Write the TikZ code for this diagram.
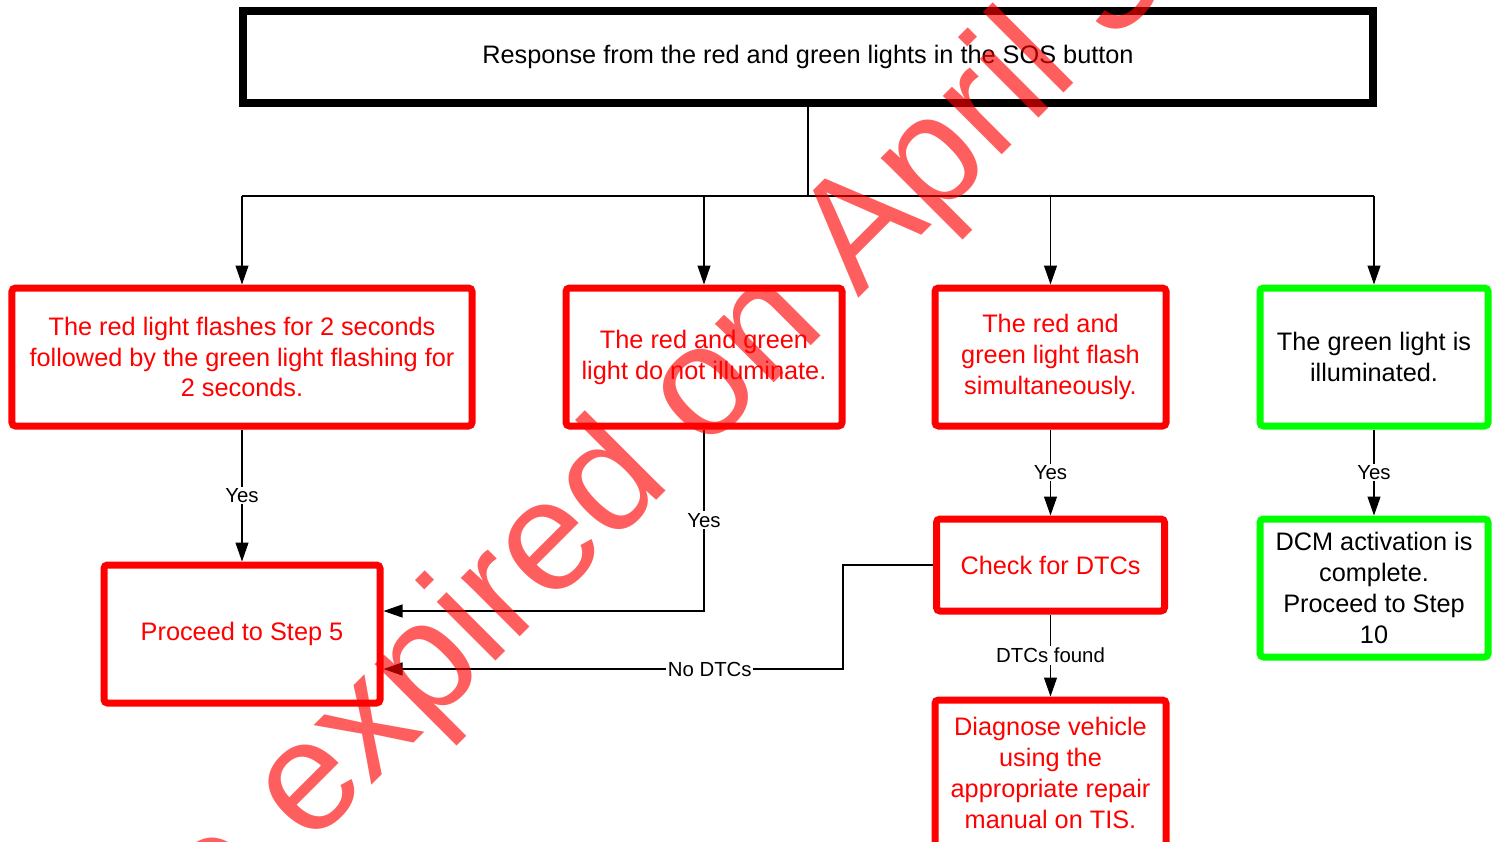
\documentclass[tikz,border=0pt]{standalone}
\usepackage{fontspec}
\setmainfont{Liberation Sans}
\usetikzlibrary{arrows.meta}
\newcommand{\boxfont}{\fontsize{14.4pt}{17.6pt}\selectfont}
\newcommand{\lblfont}{\fontsize{11.6pt}{13pt}\selectfont}
\tikzstyle{head} = [rectangle, draw=black, line width=0.16cm,
minimum width=22.6cm, minimum height=1.84cm, font=\boxfont]
\tikzstyle{redbox} = [rectangle, draw=red, text=red, line width=0.14cm,
align=center, rounded corners=2pt, minimum height=2.76cm, font=\boxfont]
\tikzstyle{greenbox} = [rectangle, draw=green, text=black, line width=0.14cm,
align=center, rounded corners=2pt, minimum height=2.76cm, font=\boxfont]
\tikzstyle{conn} = [draw, black, line width=0.6pt]
\tikzstyle{arrow} = [conn, -{Triangle[length=0.38cm, width=0.26cm]}]
\tikzstyle{lbl} = [fill=white, inner sep=1pt, font=\lblfont]
\tikzstyle{stamp} = [text=red, text opacity=0.63, inner sep=0pt,
font=\fontsize{89.4pt}{100pt}\selectfont]

\begin{document}
\begin{tikzpicture}
			\useasboundingbox (0,0) rectangle (30.02,-16.82);
			\clip (0,0) rectangle (30.02,-16.82);
			% Place nodes
			\node [head] (resp) at (16.16,-1.14)
			{Response from the red and green lights in the SOS button};
			\coordinate [below of=resp, node distance=2.78cm] (hub);
			\node [redbox, minimum width=9.2cm] (flash) at (4.84,-7.14)
			{The red light flashes for 2 seconds\\followed by the green light flashing for\\2 seconds.};
			\node [redbox, right of=flash, node distance=9.24cm, minimum width=5.52cm] (off)
			{The red and green\\light do not illuminate.};
			\node [redbox, right of=off, node distance=6.93cm, minimum width=4.62cm] (sim)
			{The red and\\green light flash\\simultaneously.};
			\node [greenbox, right of=sim, node distance=6.47cm, minimum width=4.56cm] (green)
			{The green light is\\illuminated.};
			\node [redbox, below of=flash, node distance=5.54cm, minimum width=5.52cm] (proc)
			{Proceed to Step 5};
			\node [redbox, below of=sim, node distance=4.16cm, minimum width=4.56cm,
			minimum height=1.84cm] (dtc) {Check for DTCs};
			\node [redbox, below of=dtc, node distance=4.16cm, minimum width=4.62cm,
			minimum height=2.92cm] (diag)
			{Diagnose vehicle\\using the\\appropriate repair\\manual on TIS.};
			\node [greenbox, below of=green, node distance=4.62cm, minimum width=4.56cm] (dcm)
			{DCM activation is\\complete.\\Proceed to Step\\10};
			% Connect nodes
			\path [conn] (resp.south) -- (hub);
			\path [conn] (hub -| flash) -- (hub -| green);
			\foreach \n in {flash,off,sim,green}
			\path [arrow] (hub -| \n) -- (\n.north);
			\path [arrow] (flash) -- node [lbl] {Yes} (proc);
			\path [arrow] (off) |- node [lbl, pos=0.25] {Yes} ([yshift=0.46cm]proc.east);
			\path [arrow] (sim) -- node [lbl] {Yes} (dtc);
			\path [arrow] (green) -- node [lbl] {Yes} (dcm);
			\path [arrow] (dtc) -- node [lbl] {DTCs found} (diag);
			\path [arrow] (dtc.west) -- ++(-1.8,0) |- node [lbl, pos=0.645] {No DTCs}
			([yshift=-0.7cm]proc.east);
			% watermark
			\node [stamp, rotate=45, anchor=base west] (wm) at (6.18,-16.96)
			{\llap{e }expired on April 3};
\end{tikzpicture}
\end{document}
